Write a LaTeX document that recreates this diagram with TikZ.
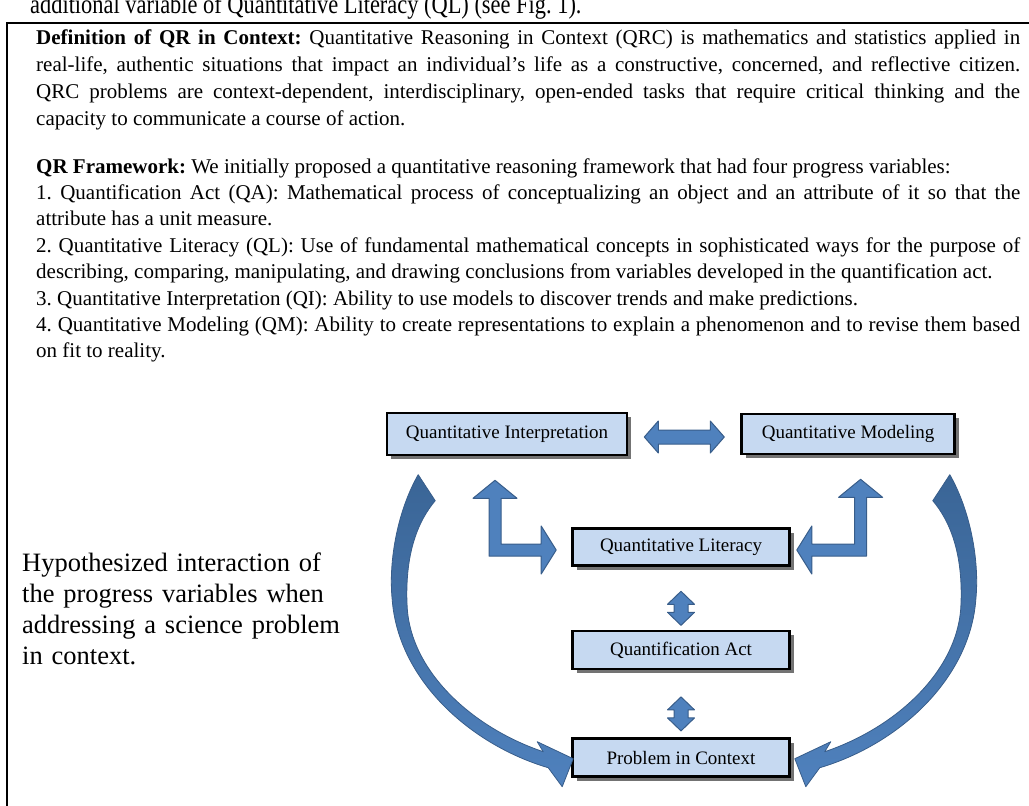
\documentclass[tikz,border=0pt]{standalone}
\usepackage{fontspec}
\setmainfont{Liberation Serif}
\usetikzlibrary{positioning,calc,shadows}
\definecolor{boxblue}{HTML}{C6D9F1}
\definecolor{arrfill}{HTML}{4F81BD}
\definecolor{arrline}{HTML}{385D8A}
\definecolor{arrdark}{HTML}{3A6596}
\hyphenpenalty=10000
\exhyphenpenalty=10000
\frenchspacing
\tikzset{
para/.style={
  anchor=base west,
  text width=984pt,
  align=justify,
  inner sep=0pt,
  font=\fontsize{21}{27}\selectfont,
},
pvar/.style={
  draw,
  line width=2.6pt,
  fill=boxblue,
  minimum width=217pt,
  minimum height=38pt,
  inner sep=0pt,
  font=\fontsize{19}{22}\selectfont,
  drop shadow={shadow xshift=4pt,shadow yshift=-4pt,fill=black!55,opacity=1},
},
blk/.style={
  fill=arrfill,
  draw=arrline,
  line width=1pt,
  line join=round,
},
curvarr/.style={
  top color=arrdark,
  bottom color=arrfill,
  draw=arrline,
  line width=.8pt,
  line join=round,
}
}

\begin{document}
\begin{tikzpicture}[x=1pt,y=-1pt]
\useasboundingbox (0,0) rectangle (1029,806);
\draw[line width=2.4pt] (7,806) -- (7,23) -- (1029,23);

\node[anchor=base west,inner sep=0pt,xscale=.83,transform shape,font=\fontsize{27}{30}\selectfont] (title) at (30,13) {additional variable of Quantitative Literacy (QL) (see Fig.~1).};

\node[para] (qrc) at (36,44) {\textbf{Definition of QR in Context:} Quantitative Reasoning in Context (QRC) is mathematics and statistics applied in\linebreak real-life, authentic situations that impact an individual's life as a constructive, concerned, and reflective citizen.\linebreak QRC problems are context-dependent, interdisciplinary, open-ended tasks that require critical thinking and the\linebreak capacity to communicate a course of action.};

\node[para,font=\fontsize{21}{26.4}\selectfont] (frame) at (36,173) {\textbf{QR Framework:} We initially proposed a quantitative reasoning framework that had four progress variables:\par
1. Quantification Act (QA): Mathematical process of conceptualizing an object and an attribute of it so that the\linebreak attribute has a unit measure.\par
2. Quantitative Literacy (QL): Use of fundamental mathematical concepts in sophisticated ways for the purpose of\linebreak describing, comparing, manipulating, and drawing conclusions from variables developed in the quantification act.\par
3. Quantitative Interpretation (QI): Ability to use models to discover trends and make predictions.\par
4. Quantitative Modeling (QM): Ability to create representations to explain a phenomenon and to revise them based\linebreak on fit to reality.};

\node[anchor=base west,inner sep=0pt,text width=330pt,align=left,font=\fontsize{26.5}{31}\selectfont] (note) at (22,571) {Hypothesized interaction of\\the progress variables when\\addressing a science problem\\in context.};

% progress variables
\node[pvar,minimum width=240pt,minimum height=42pt] (qi) at (507,434) {Quantitative Interpretation};
\node[pvar,minimum width=213pt,minimum height=40pt,right=112pt of qi] (qm) {Quantitative Modeling};
\node[pvar,minimum height=37pt] (ql) at (681,547) {Quantitative Literacy};
\node[pvar,below=63pt of ql] (qa) {Quantification Act};
\node[pvar,below=67pt of qa] (pic) {Problem in Context};

% block arrows
\coordinate (h) at ($(qi.east)!.5!(qm.west)+(0,3)$);
\draw[blk] (h) +(-40,0) -- +(-26,-16) -- +(-26,-7) -- +(26,-7) -- +(26,-16) -- +(40,0) -- +(26,16) -- +(26,7) -- +(-26,7) -- +(-26,16) -- cycle;
\foreach \a/\b in {ql/qa,qa/pic}{
  \coordinate (v) at ($(\a.south)!.5!(\b.north)+(0,10)$);
  \draw[blk] (v) +(0,-17) -- +(13.5,-4) -- +(7,-4) -- +(7,4) -- +(13.5,4) -- +(0,17) -- +(-13.5,4) -- +(-7,4) -- +(-7,-4) -- +(-13.5,-4) -- cycle;
}

\coordinate (lu) at ($(qi.south)+(-12,24)$);
\coordinate (lr) at ($(ql.west)+(-15,3)$);
\coordinate (lk) at (lu |- lr);
\draw[blk] (lu) -- ++(22,18) -- ++(-16,0) -- ($(lk)+(6,-6)$) -- ($(lr)+(-15,-6)$) -- ++(0,-18) -- (lr) -- ++(-15,24) -- ++(0,-18) -- ($(lk)+(-6,6)$) -- ($(lu)+(-6,18)$) -- ++(-16,0) -- cycle;

\coordinate (ru) at ($(qm.south)+(12.5,24)$);
\coordinate (rr) at ($(ql.east)+(6,3)$);
\coordinate (rk) at (ru |- rr);
\draw[blk] (ru) -- ++(-22,18) -- ++(16,0) -- ($(rk)+(-6,-6)$) -- ($(rr)+(15,-6)$) -- ++(0,-18) -- (rr) -- ++(15,24) -- ++(0,-18) -- ($(rk)+(6,6)$) -- ($(ru)+(6,18)$) -- ++(16,0) -- cycle;

% curved arrows into the problem
\begin{scope}[shift={(pic.west)}]
\draw[curvarr] (-153,-283) .. controls (-173,-248) and (-183,-198) .. (-179,-158)
  .. controls (-173,-78) and (-101,-13) .. (-23,10) -- (-9,29) -- (2,1) -- (-34,-16) -- (-28,-6)
  .. controls (-99,-30) and (-160,-86) .. (-164,-150)
  .. controls (-167,-206) and (-152,-238) .. (-136,-257) -- cycle;
\end{scope}
\begin{scope}[shift={($(pic.east)+(6,0)$)},xscale=-1]
\draw[curvarr] (-153,-283) .. controls (-173,-248) and (-183,-198) .. (-179,-158)
  .. controls (-173,-78) and (-101,-13) .. (-23,10) -- (-9,29) -- (2,1) -- (-34,-16) -- (-28,-6)
  .. controls (-99,-30) and (-160,-86) .. (-164,-150)
  .. controls (-167,-206) and (-152,-238) .. (-136,-257) -- cycle;
\end{scope}
\end{tikzpicture}
\end{document}
